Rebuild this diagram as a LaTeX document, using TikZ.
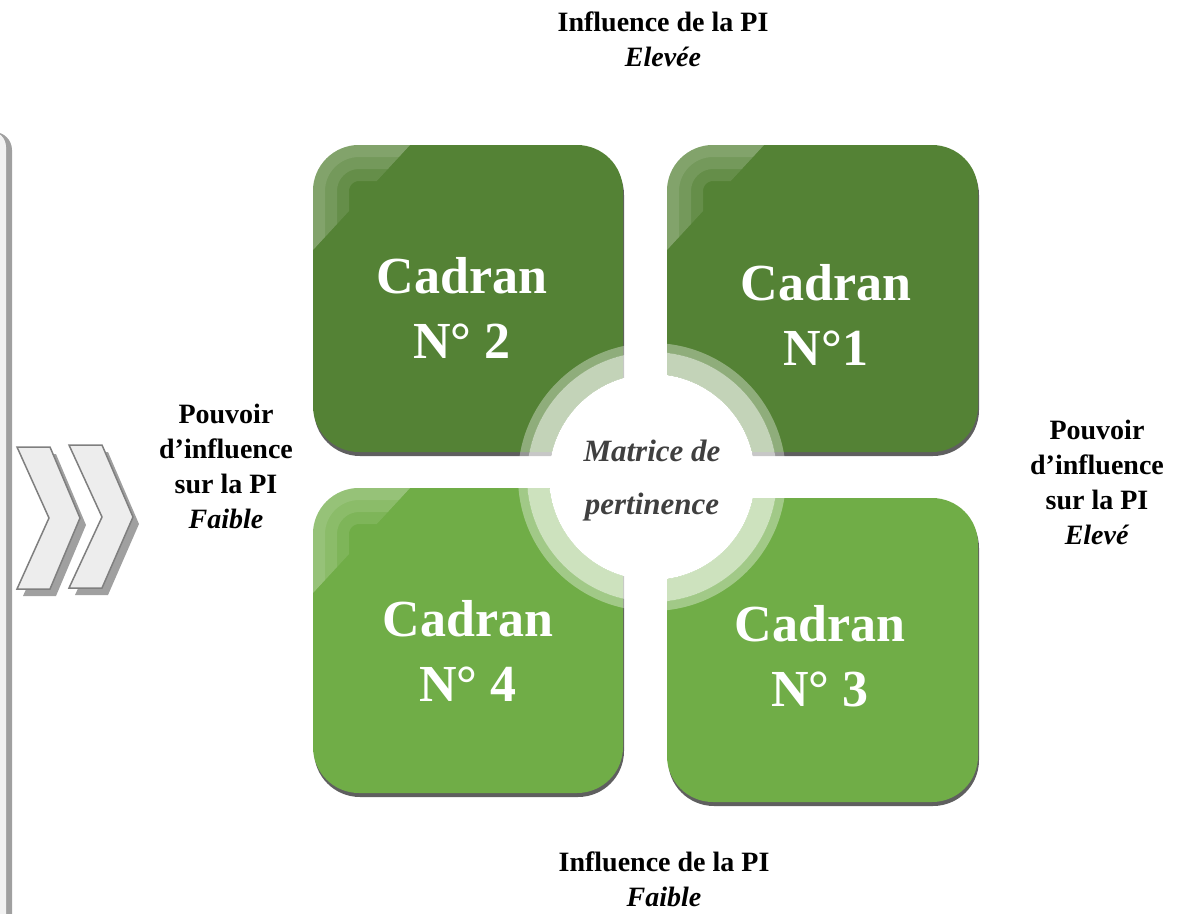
\documentclass[tikz,border=0pt]{standalone}
\usepackage{fontspec}
\setmainfont{Liberation Serif}
\definecolor{darkgreen}{RGB}{84,130,53}
\definecolor{lightgreen}{RGB}{112,173,71}
\definecolor{panelgray}{RGB}{242,242,242}
\definecolor{edgegray}{RGB}{160,160,160}
\definecolor{chevfill}{RGB}{237,237,237}
\definecolor{chevline}{RGB}{127,127,127}
\definecolor{boxshadow}{RGB}{95,95,95}
\definecolor{hubtext}{RGB}{64,64,64}

\tikzset{
  cadran/.style={text=white, font=\fontsize{52}{65}\selectfont\bfseries, align=center},
  axislabel/.style={font=\fontsize{28}{35}\selectfont\bfseries, align=center},
  hublabel/.style={text=hubtext, font=\fontsize{31}{53}\selectfont\bfseries\itshape, align=center},
  chevshadow/.style={fill=edgegray},
  chevbody/.style={fill=chevfill, draw=chevline, line width=1.5},
}

% tile: x0, y0, x1, y1, colour (y grows downwards)
\newcommand\tile[5]{%
  \fill[boxshadow, rounded corners=46] (#1+1,#2+4) rectangle (#3+1,#4+4);
  \fill[#5, rounded corners=46] (#1,#2) rectangle (#3,#4);}
% stepped glossy highlight in the upper left corner of a tile
\newcommand\gloss[4]{%
  \begin{scope}
    \clip[rounded corners=46] (#1,#2) rectangle (#3,#4);
    \clip (#1,#2) -- (#1+97,#2) -- (#1,#2+105) -- cycle;
    \foreach \w in {72,48,24}
      \draw[white, opacity=0.1, line width=\w, rounded corners=46] (#1,#2) rectangle (#3,#4);
  \end{scope}}

\begin{document}
\begin{tikzpicture}[x=1pt,y=-1pt]
\useasboundingbox (0,0) rectangle (1178,913);

% side panel on the left
\fill[edgegray, rounded corners=18] (-60,132) rectangle (12,980);
\fill[panelgray, rounded corners=16] (-60,131) rectangle (6,980);

% double chevron
\fill[chevshadow] (23,454) -- (56,454) -- (86,525) -- (56,596) -- (23,596) -- (55,525) -- cycle;
\path[chevbody] (17,447) -- (50,447) -- (80,518) -- (50,589) -- (17,589) -- (49,518) -- cycle;
\fill[chevshadow] (75,452) -- (108,452) -- (139,524) -- (108,595) -- (75,595) -- (108,524) -- cycle;
\path[chevbody] (69,445) -- (102,445) -- (133,517) -- (102,588) -- (69,588) -- (102,517) -- cycle;

% the four quadrants
\tile{313}{145}{623}{452}{darkgreen}
\tile{667}{145}{978}{452}{darkgreen}
\tile{313}{488}{623}{793}{lightgreen}
\tile{667}{498}{978}{802}{lightgreen}
\gloss{313}{145}{623}{452}
\gloss{667}{145}{978}{452}
\gloss{313}{488}{623}{793}

% central hub
\fill[white, opacity=0.35, even odd rule] (652,477) circle (134) (652,477) circle (125);
\fill[white, opacity=0.65, even odd rule] (652,477) circle (125) (652,477) circle (103);
\fill[white] (652,477) circle (103);

% quadrant titles
\node[cadran] (q2) at (462,308) {Cadran\\N° 2};
\node[cadran] (q1) at (826,315) {Cadran\\N°1};
\node[cadran] (q4) at (468,651) {Cadran\\N° 4};
\node[cadran] (q3) at (820,656) {Cadran\\N° 3};

\node[hublabel] (hub) at (652,481) {Matrice de\\pertinence};

% axis labels
\node[axislabel] (top) at (663,39) {Influence de la PI\\\textit{Elevée}};
\node[axislabel] (bottom) at (664,879) {Influence de la PI\\\textit{Faible}};
\node[axislabel] (left) at (226,466) {Pouvoir\\d’influence\\sur la PI\\\textit{Faible}};
\node[axislabel] (right) at (1097,482) {Pouvoir\\d’influence\\sur la PI\\\textit{Elevé}};
\end{tikzpicture}
\end{document}
